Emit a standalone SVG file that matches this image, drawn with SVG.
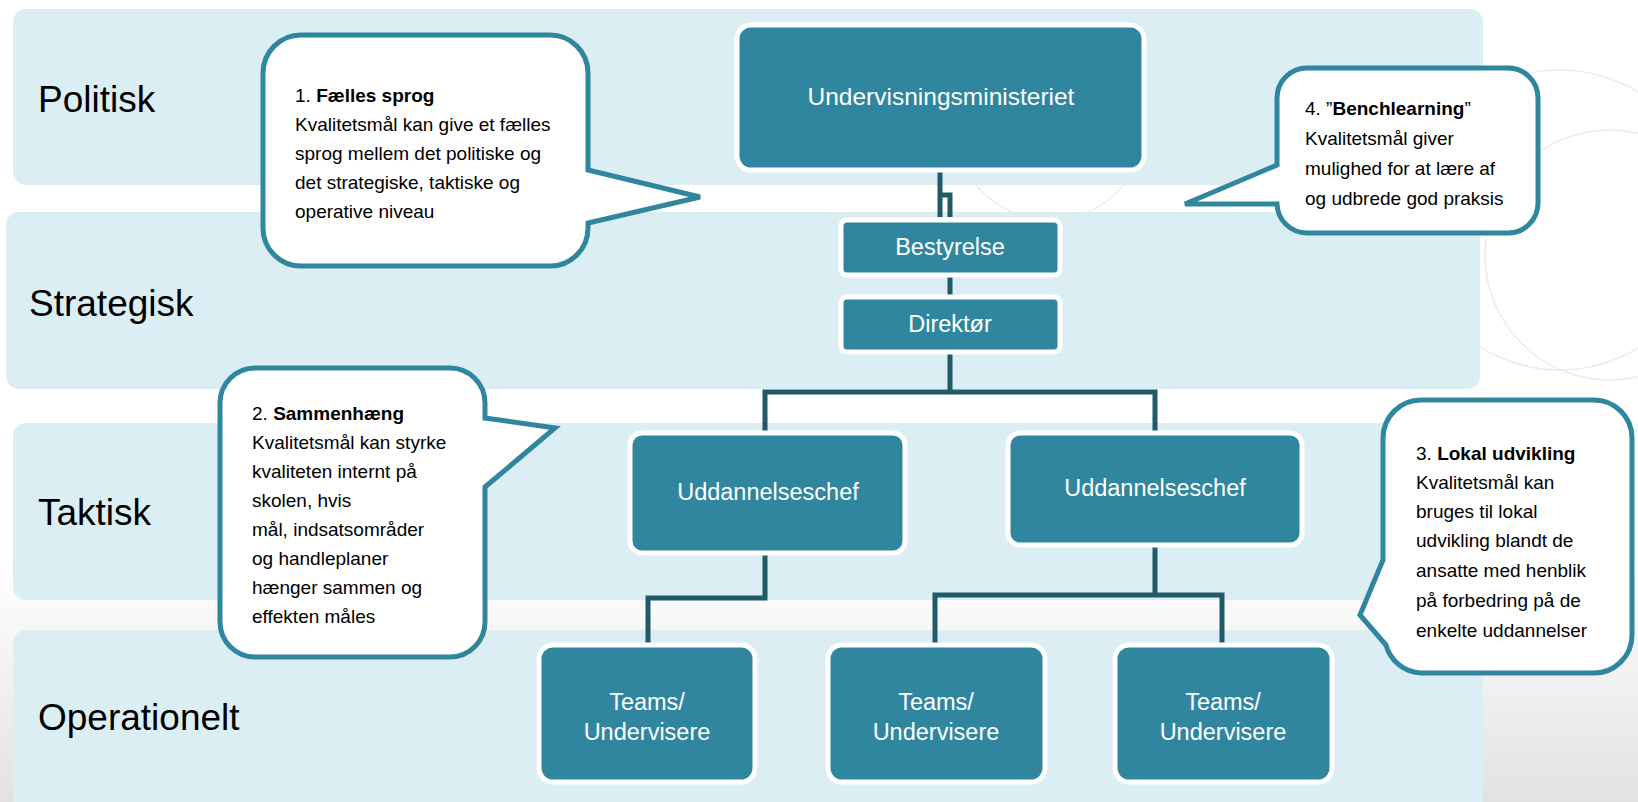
<svg xmlns="http://www.w3.org/2000/svg" width="1638" height="802" viewBox="0 0 1638 802">
<defs>
<linearGradient id="bg" x1="0" y1="0" x2="0" y2="1">
<stop offset="0" stop-color="#ffffff"/>
<stop offset="0.7" stop-color="#ffffff"/>
<stop offset="1" stop-color="#e2e2e2"/>
</linearGradient>
<style>
.band{fill:#DAEEF3;}
.lvl{font-family:"Liberation Sans",Arial,sans-serif;font-size:37px;fill:#000;}
.node{fill:#31869F;stroke:#ffffff;stroke-width:5;}
.nt{font-family:"Liberation Sans",Arial,sans-serif;font-size:23.5px;fill:#ffffff;text-anchor:middle;}
.conn{fill:none;stroke:#215A69;stroke-width:5;stroke-linejoin:miter;}
.call{fill:#ffffff;stroke:#31869F;stroke-width:5;stroke-linejoin:miter;}
.ct{font-family:"Liberation Sans",Arial,sans-serif;font-size:19px;fill:#000;}
.b{font-weight:bold;}
.deco{fill:none;stroke:#ececec;stroke-width:1.5;}
</style>
</defs>
<rect width="1638" height="802" fill="url(#bg)"/>
<g id="decoration">
<circle class="deco" cx="1050" cy="125" r="95"/>
<circle class="deco" cx="1610" cy="255" r="125"/>
<circle class="deco" cx="1560" cy="220" r="150"/>
</g>
<g id="bands">
<rect class="band" x="13" y="9" width="1470" height="176" rx="13"/>
<rect class="band" x="6" y="212" width="1474" height="177" rx="13"/>
<rect class="band" x="13" y="423" width="1470" height="177" rx="13"/>
<rect class="band" x="13" y="630" width="1470" height="185" rx="13"/>
<text class="lvl" x="38" y="112">Politisk</text>
<text class="lvl" x="29" y="316">Strategisk</text>
<text class="lvl" x="38" y="525">Taktisk</text>
<text class="lvl" x="38" y="730">Operationelt</text>
</g>
<g id="connectors">
<path class="conn" d="M940,172 V217 M940,195 H950 V217"/>
<path class="conn" d="M950,276 V296"/>
<path class="conn" d="M950,354 V392 M765,431 V392 H1155 V431"/>
<path class="conn" d="M765,555 V598 H648 V643"/>
<path class="conn" d="M1155,547 V595 M935,643 V595 H1222 V643"/>
</g>
<g id="n-ministeriet">
<rect class="node" x="737" y="25" width="407" height="145" rx="14"/>
<text class="nt" x="941" y="105" style="font-size:24.5px">Undervisningsministeriet</text>
</g>
<g id="n-bestyrelse">
<rect class="node" x="841" y="220" width="219" height="55" rx="6"/>
<text class="nt" x="950" y="255">Bestyrelse</text>
</g>
<g id="n-direktor">
<rect class="node" x="841" y="297" width="219" height="55" rx="6"/>
<text class="nt" x="950" y="332">Direktør</text>
</g>
<g id="n-udd1">
<rect class="node" x="630" y="433" width="275" height="120" rx="12"/>
<text class="nt" x="768" y="500">Uddannelseschef</text>
</g>
<g id="n-udd2">
<rect class="node" x="1008" y="433" width="294" height="112" rx="12"/>
<text class="nt" x="1155" y="496">Uddannelseschef</text>
</g>
<g id="n-teams1">
<rect class="node" x="539" y="645" width="216" height="137" rx="14"/>
<text class="nt" x="647" y="710">Teams/</text>
<text class="nt" x="647" y="740">Undervisere</text>
</g>
<g id="n-teams2">
<rect class="node" x="828" y="645" width="217" height="137" rx="14"/>
<text class="nt" x="936" y="710">Teams/</text>
<text class="nt" x="936" y="740">Undervisere</text>
</g>
<g id="n-teams3">
<rect class="node" x="1115" y="645" width="217" height="137" rx="14"/>
<text class="nt" x="1223" y="710">Teams/</text>
<text class="nt" x="1223" y="740">Undervisere</text>
</g>
<g id="callout-1">
<path class="call" d="M301,35 H550 A38,38 0 0 1 588,73 V170 L700,197 L588,223 V228 A38,38 0 0 1 550,266 H301 A38,38 0 0 1 263,228 V73 A38,38 0 0 1 301,35 Z"/>
<text class="ct" x="295" y="102">1. <tspan class="b">Fælles sprog</tspan></text>
<text class="ct" x="295" y="131">Kvalitetsmål kan give et fælles</text>
<text class="ct" x="295" y="160">sprog mellem det politiske og</text>
<text class="ct" x="295" y="189">det strategiske, taktiske og</text>
<text class="ct" x="295" y="218">operative niveau</text>
</g>
<g id="callout-2">
<path class="call" d="M255,368 H450 A35,35 0 0 1 485,403 V418 L555,428 L485,487 V622 A35,35 0 0 1 450,657 H255 A35,35 0 0 1 220,622 V403 A35,35 0 0 1 255,368 Z"/>
<text class="ct" x="252" y="420">2. <tspan class="b">Sammenhæng</tspan></text>
<text class="ct" x="252" y="449">Kvalitetsmål kan styrke</text>
<text class="ct" x="252" y="478">kvaliteten internt på</text>
<text class="ct" x="252" y="507">skolen, hvis</text>
<text class="ct" x="252" y="536">mål, indsatsområder</text>
<text class="ct" x="252" y="565">og handleplaner</text>
<text class="ct" x="252" y="594">hænger sammen og</text>
<text class="ct" x="252" y="623">effekten måles</text>
</g>
<g id="callout-3">
<path class="call" d="M1421,400 H1594 A38,38 0 0 1 1632,438 V635 A38,38 0 0 1 1594,673 H1421 A38,38 0 0 1 1386,645 L1360,615 L1383,560 V438 A38,38 0 0 1 1421,400 Z"/>
<text class="ct" x="1416" y="460">3. <tspan class="b">Lokal udvikling</tspan></text>
<text class="ct" x="1416" y="489">Kvalitetsmål kan</text>
<text class="ct" x="1416" y="518">bruges til lokal</text>
<text class="ct" x="1416" y="547">udvikling blandt de</text>
<text class="ct" x="1416" y="577">ansatte med henblik</text>
<text class="ct" x="1416" y="607">på forbedring på de</text>
<text class="ct" x="1416" y="637">enkelte uddannelser</text>
</g>
<g id="callout-4">
<path class="call" d="M1307,68 H1508 A30,30 0 0 1 1538,98 V203 A30,30 0 0 1 1508,233 H1307 A30,30 0 0 1 1277,204 L1185,204 L1277,165 V98 A30,30 0 0 1 1307,68 Z"/>
<text class="ct" x="1305" y="115">4. ”<tspan class="b">Benchlearning</tspan>”</text>
<text class="ct" x="1305" y="145">Kvalitetsmål giver</text>
<text class="ct" x="1305" y="175">mulighed for at lære af</text>
<text class="ct" x="1305" y="205">og udbrede god praksis</text>
</g>
</svg>
